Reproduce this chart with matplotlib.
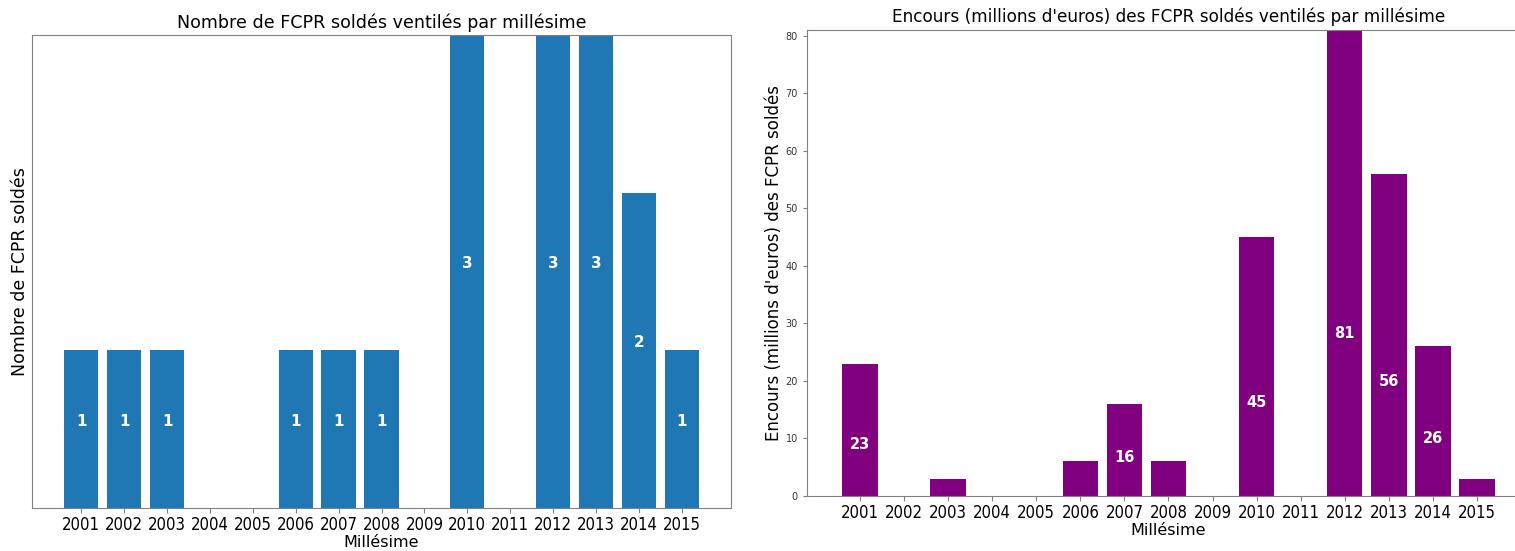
import matplotlib
matplotlib.use("Agg")
import matplotlib.pyplot as plt

# data
years = [2001, 2002, 2003, 2004, 2005, 2006, 2007, 2008, 2009, 2010, 2011, 2012, 2013, 2014, 2015]
nb_fcpr = [1, 1, 1, 0, 0, 1, 1, 1, 0, 3, 0, 3, 3, 2, 1]
encours = [23, 0, 3, 0, 0, 6, 16, 6, 0, 45, 0, 81, 56, 26, 3]

W, H = 1515, 551
fig = plt.figure(figsize=(W / 100, H / 100), dpi=100)

spine_col = '#808080'
cond = dict(family='DejaVu Sans', stretch='condensed')

# left chart: count of funds
ax1 = fig.add_axes([32 / W, (H - 508) / H, (731 - 32) / W, (508 - 35) / H])
ax1.bar(years, nb_fcpr, width=0.8, color='#1f77b4')
for x, v in zip(years, nb_fcpr):
    if v > 0:
        ax1.text(x, v / 2, str(v), ha='center', va='bottom', color='white',
                 fontsize=11, fontweight='bold')
ax1.set_ylim(0, 3)
ax1.set_xlim(1999.85, 2016.15)
ax1.set_yticks([])
ax1.set_xticks(years)
ax1.set_xticklabels([str(y) for y in years], fontsize=12, **cond)
ax1.tick_params(axis='x', pad=2, color=spine_col)
ax1.set_title("Nombre de FCPR soldés ventilés par millésime", fontsize=12.6, pad=5)
ax1.set_xlabel("Millésime", fontsize=11.5, labelpad=1)
ax1.set_ylabel("Nombre de FCPR soldés", fontsize=12.5, labelpad=2)
for s in ax1.spines.values():
    s.set_color(spine_col)

# right chart: outstanding amounts
ax2 = fig.add_axes([807 / W, (H - 496) / H, (1530 - 807) / W, (496 - 30) / H])
ax2.bar(years, encours, width=0.8, color='purple')
for x, v in zip(years, encours):
    if v >= 10:
        ax2.text(x, v / 3, str(v), ha='center', va='bottom', color='white',
                 fontsize=10.5, fontweight='bold')
ax2.set_ylim(0, 81)
ax2.set_xlim(1999.8, 2016.2)
ax2.set_yticks(range(0, 81, 10))
ax2.tick_params(axis='y', labelsize=7, labelcolor='#333333', length=3, color=spine_col)
ax2.set_xticks(years)
ax2.set_xticklabels([str(y) for y in years], fontsize=12, **cond)
ax2.tick_params(axis='x', pad=2, color=spine_col)
ax2.set_title("Encours (millions d'euros) des FCPR soldés ventilés par millésime", fontsize=12.2, pad=6)
ax2.set_xlabel("Millésime", fontsize=11.5, labelpad=1)
ax2.set_ylabel("Encours (millions d'euros) des FCPR soldés", fontsize=12, labelpad=2)
for s in ax2.spines.values():
    s.set_color(spine_col)

fig.savefig("out.png", dpi=100)
